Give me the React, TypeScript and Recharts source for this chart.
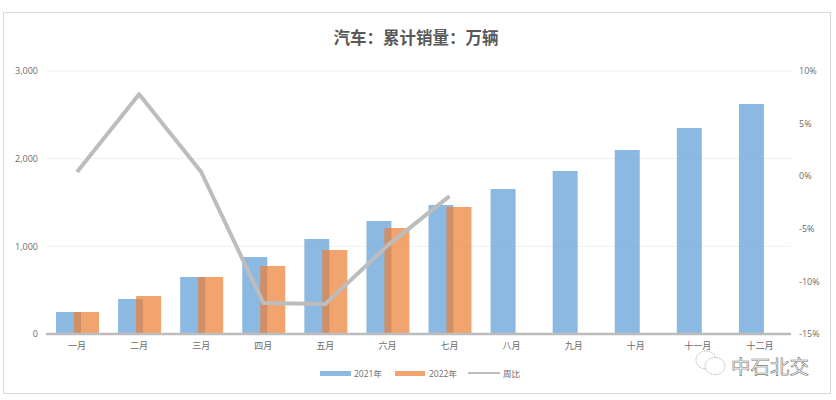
import { ComposedChart, Bar, Line, XAxis, YAxis, CartesianGrid, Legend } from 'recharts'

const months = ['一月', '二月', '三月', '四月', '五月', '六月', '七月', '八月', '九月', '十月', '十一月', '十二月']
const sales2021 = [251, 399, 650, 878, 1084, 1289, 1471, 1654, 1859, 2099, 2350, 2623]
const sales2022 = [251, 433, 650, 776, 958, 1209, 1449, null, null, null, null, null]
const yoy = [0.4, 7.8, 0.4, -12.05, -12.15, -6.6, -1.9, null, null, null, null, null]
const leftTicks = [0, 1000, 2000, 3000]
const rightTicks = [-15, -10, -5, 0, 5, 10]

const data = months.map((name, i) => ({
  name,
  y2021: sales2021[i],
  y2022: sales2022[i],
  yoy: yoy[i],
}))

const font = "'Open Sans', 'Noto Sans CJK SC', sans-serif"
const BLUE = '#5B9BD5'
const ORANGE = '#ED7D31'
const GREY = '#bdbdbd'
const tick = { fill: '#6b6b6b', fontSize: 9, fontFamily: font }

const ChartLegend = () => (
  <div style={{ display: 'flex', justifyContent: 'flex-start', alignItems: 'center', paddingLeft: 320, height: 18, fontSize: 8.5, fontFamily: font, color: '#6b6b6b' }}>
    <span style={{ width: 31, height: 5, background: BLUE, opacity: 0.7, marginRight: 3 }} />
    <span style={{ width: 41 }}>2021年</span>
    <span style={{ width: 30, height: 5, background: ORANGE, opacity: 0.7, marginRight: 4 }} />
    <span style={{ width: 39 }}>2022年</span>
    <span style={{ width: 32, height: 2, background: GREY, marginRight: 3 }} />
    <span>周比</span>
  </div>
)

export default function App() {
  return (
    <div style={{ position: 'absolute', left: 0, top: 0, width: 836, height: 400, background: '#fff' }}>
      <div style={{ position: 'absolute', left: 3, top: 12, width: 826, height: 380, border: '1px solid #d9d9d9' }} />
      <div style={{ position: 'absolute', left: 0, width: 832, top: 26, textAlign: 'center', fontSize: 16.5, lineHeight: '24px', fontWeight: 700, fontFamily: font, color: '#595959' }}>
        汽车：累计销量：万辆
      </div>
      <div style={{ position: 'absolute', left: 0, top: 0 }}>
        <ComposedChart width={836} height={400} data={data} margin={{ top: 71, right: 0, bottom: 0, left: 0 }} barSize={25} barGap={-7}>
          <CartesianGrid yAxisId="left" vertical={false} stroke="#f0f0f0" />
          <XAxis dataKey="name" height={30} tickLine={false} axisLine={{ stroke: GREY, strokeWidth: 2.5 }} tick={tick} tickMargin={3} interval={0} />
          <YAxis yAxisId="left" width={46} domain={[0, 3000]} ticks={leftTicks} axisLine={false} tickLine={false} tick={tick} tickFormatter={(v: number) => v.toLocaleString('en-US')} />
          <YAxis yAxisId="right" orientation="right" width={45} domain={[-15, 10]} ticks={rightTicks} axisLine={false} tickLine={false} tick={tick} tickFormatter={(v: number) => `${v}%`} />
          <Bar yAxisId="left" dataKey="y2021" fill={BLUE} fillOpacity={0.7} isAnimationActive={false} />
          <Bar yAxisId="left" dataKey="y2022" fill={ORANGE} fillOpacity={0.7} isAnimationActive={false} />
          <Line yAxisId="right" dataKey="yoy" type="linear" stroke={GREY} strokeWidth={4} strokeLinejoin="round" dot={false} isAnimationActive={false} connectNulls={false} />
          <Legend verticalAlign="bottom" height={36} content={<ChartLegend />} />
        </ComposedChart>
      </div>
      {/* 水印 */}
      <svg width={36} height={30} style={{ position: 'absolute', left: 692, top: 348 }} fill="none" stroke="#9a9a9a" strokeWidth={0.7} strokeDasharray="1.5 1">
        <ellipse cx={14} cy={12} rx={10} ry={9} fill="#fff" />
        <ellipse cx={23} cy={18} rx={10} ry={8.5} fill="#fff" />
      </svg>
      <div style={{ position: 'absolute', left: 731, top: 356, fontSize: 19.5, lineHeight: '20px', fontFamily: "'Noto Sans CJK SC', sans-serif", color: '#fff', WebkitTextStroke: '0.6px #777', whiteSpace: 'nowrap' }}>
        中石北交
      </div>
    </div>
  )
}
